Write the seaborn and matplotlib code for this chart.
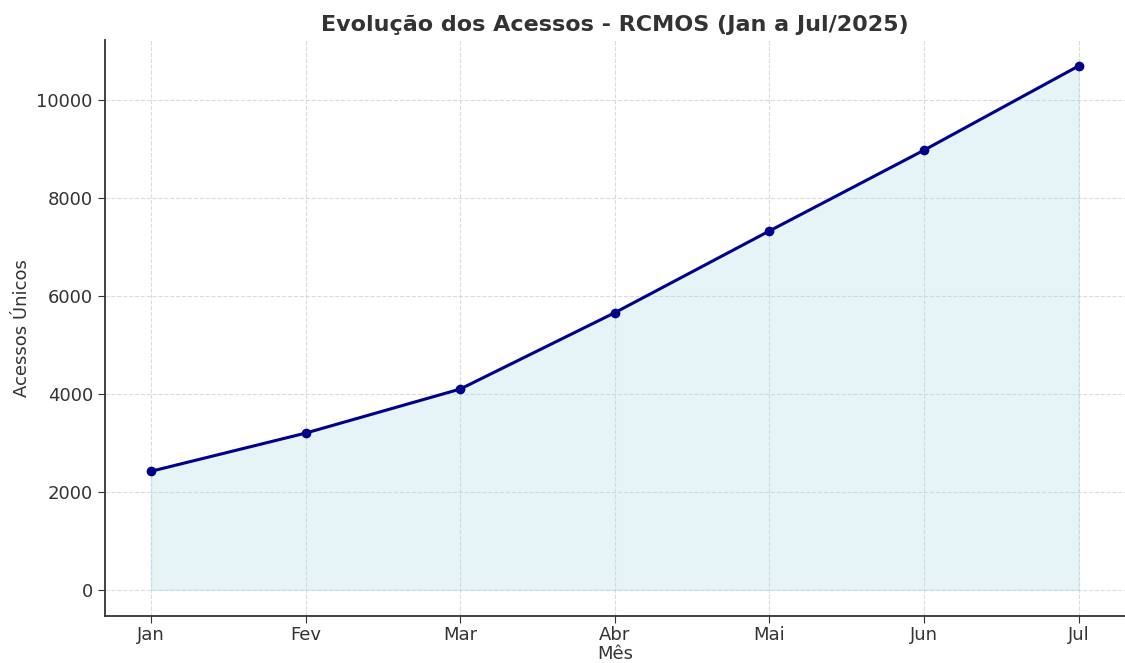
import pandas as pd
import matplotlib
matplotlib.use('Agg')
import matplotlib.pyplot as plt
import seaborn as sns

meses = ['Jan', 'Fev', 'Mar', 'Abr', 'Mai', 'Jun', 'Jul']
acessos = [2420, 3200, 4100, 5660, 7330, 8980, 10700]

sns.set_style('ticks', {'grid.linestyle': '--'})
plt.rcParams['font.family'] = ['DejaVu Sans']
plt.rcParams['text.color'] = '#333333'
plt.rcParams['axes.labelcolor'] = '#333333'
plt.rcParams['xtick.color'] = '#333333'
plt.rcParams['ytick.color'] = '#333333'

df = pd.DataFrame({'Mês': meses, 'Acessos Únicos': acessos})

fig, ax = plt.subplots(figsize=(11.25, 6.63), dpi=100)
fig.subplots_adjust(left=0.093, right=1.0, top=0.94, bottom=0.071)

sns.lineplot(data=df, x='Mês', y='Acessos Únicos', ax=ax, color='darkblue',
             linewidth=2.2, marker='o', markersize=7, markeredgewidth=0, zorder=3)
ax.fill_between(range(len(df)), df['Acessos Únicos'], color='lightblue', alpha=0.3, zorder=2)

# o preenchimento vai até zero, então a escala y começa em zero (+ margem de 5%)
ymax = df['Acessos Únicos'].max()
ax.set_ylim(-0.05 * ymax, 1.05 * ymax)

ax.grid(True, linestyle='--', color='#cccccc', alpha=0.7, linewidth=0.8)
ax.set_axisbelow(True)
sns.despine(ax=ax)
for s in ['left', 'bottom']:
    ax.spines[s].set_color('#333333')
    ax.spines[s].set_linewidth(1.3)
ax.tick_params(labelsize=13, length=5)
ax.tick_params(axis='x', pad=2)
ax.set_xlabel('Mês', fontsize=13, labelpad=1)
ax.set_ylabel('Acessos Únicos', fontsize=13)
ax.set_title('Evolução dos Acessos - RCMOS (Jan a Jul/2025)', fontsize=16, fontweight='bold')

plt.savefig('out.png')
